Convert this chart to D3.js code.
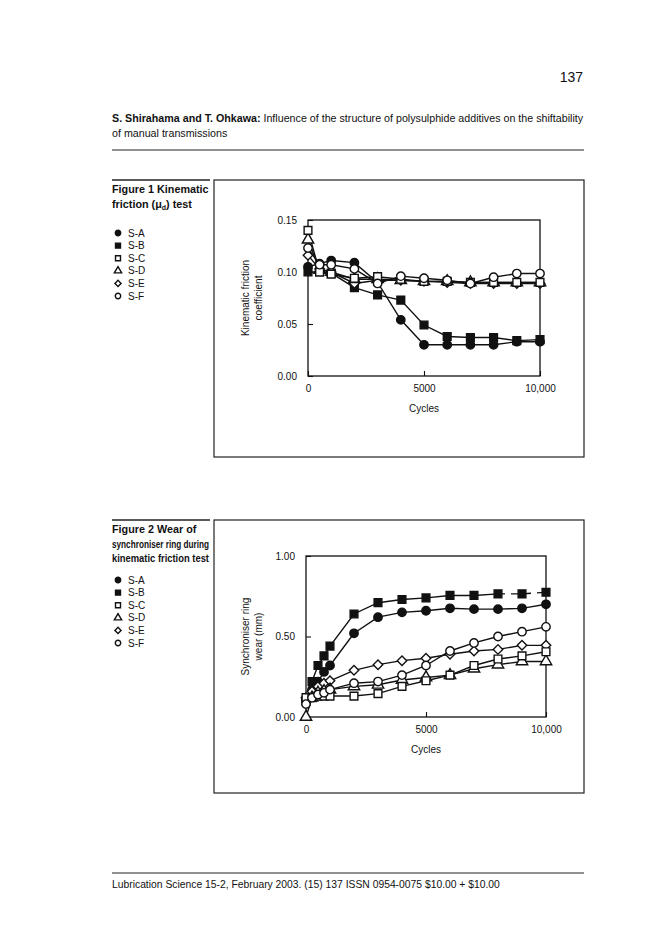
<!DOCTYPE html>
<html><head><meta charset="utf-8">
<script src="https://cdn.jsdelivr.net/npm/d3@7"></script>
<style>body{margin:0;background:#fff}svg{display:block}text{font-family:"Liberation Sans",Arial,sans-serif;fill:#111}</style>
</head><body>
<svg id="page" width="652" height="943"></svg>
<script>
// ---------- data ----------
const seriesNames = ["S-A","S-B","S-C","S-D","S-E","S-F"];
const seriesSymbols = ["circleFilled","squareFilled","squareOpen","triangleOpen","diamondOpen","circleOpen"];

// Figure 1: kinematic friction coefficient vs cycles
const fig1Cycles = [0,500,1000,2000,3000,4000,5000,6000,7000,8000,9000,10000];
const fig1SA = [0.105,0.108,0.111,0.109,0.090,0.054,0.030,0.030,0.030,0.030,0.033,0.033];
const fig1SB = [0.100,0.100,0.099,0.085,0.078,0.073,0.049,0.038,0.037,0.037,0.034,0.035];
const fig1SC = [0.140,0.100,0.098,0.094,0.0955,0.093,0.091,0.091,0.090,0.090,0.090,0.090];
const fig1SD = [0.131,0.102,0.100,0.093,0.093,0.092,0.091,0.091,0.090,0.090,0.090,0.090];
const fig1SE = [0.116,0.103,0.100,0.089,0.092,0.092,0.091,0.090,0.089,0.089,0.089,0.089];
const fig1SF = [0.123,0.107,0.107,0.103,0.089,0.096,0.094,0.092,0.089,0.095,0.0985,0.0985];
const fig1YTicks = [0,0.05,0.10,0.15];

// Figure 2: synchroniser ring wear (mm) vs cycles
const fig2Cycles = [0,250,500,750,1000,2000,3000,4000,5000,6000,7000,8000,9000,10000];
const fig2SA = [0.10,0.17,0.22,0.28,0.32,0.52,0.62,0.65,0.66,0.675,0.67,0.67,0.675,0.70];
const fig2SB = [0.10,0.22,0.32,0.38,0.44,0.64,0.71,0.73,0.74,0.755,0.755,0.765,0.765,0.775];
const fig2SC = [0.12,0.12,0.13,0.13,0.13,0.13,0.145,0.19,0.225,0.26,0.32,0.36,0.38,0.405];
const fig2SD = [0.00,0.12,0.15,0.16,0.17,0.19,0.20,0.23,0.245,0.26,0.30,0.325,0.345,0.345];
const fig2SE = [0.12,0.16,0.19,0.21,0.225,0.29,0.325,0.35,0.365,0.39,0.41,0.42,0.445,0.445];
const fig2SF = [0.08,0.12,0.14,0.15,0.17,0.21,0.22,0.26,0.32,0.41,0.46,0.50,0.53,0.56];
const fig2YTicks = [0,0.5,1.0];
const fig2DashedFrom = 8000; // S-B drawn dashed after this cycle count

const xTickValues = [0,5000,10000];
const xTickLabels = ["0","5000","10,000"];

// ---------- drawing ----------
const svg = d3.select("#page");
svg.append("rect").attr("width",652).attr("height",943).attr("fill","#fff");

function fitWidth(sel, w) {
  const n = sel.node(); const cur = n.getComputedTextLength();
  const fs = parseFloat(sel.attr("font-size"));
  sel.attr("font-size", (fs * w / cur).toFixed(2));
}

// header
svg.append("text").attr("x",583).attr("y",82).attr("text-anchor","end").attr("font-size",14).text("137");
const t1 = svg.append("text").attr("x",112).attr("y",122).attr("font-size",10.6);
t1.append("tspan").attr("font-weight","bold").text("S. Shirahama and T. Ohkawa:");
t1.append("tspan").text(" Influence of the structure of polysulphide additives on the shiftability");
fitWidth(t1, 471);
svg.append("text").attr("x",112).attr("y",137).attr("font-size",t1.attr("font-size")).text("of manual transmissions");
svg.append("line").attr("x1",112).attr("x2",584).attr("y1",150).attr("y2",150).attr("stroke","#222").attr("stroke-width",1.2);

// footer
svg.append("line").attr("x1",112).attr("x2",584).attr("y1",873).attr("y2",873).attr("stroke","#222").attr("stroke-width",1.2);
const ft = svg.append("text").attr("x",112).attr("y",888).attr("font-size",10.6).text("Lubrication Science 15-2, February 2003. (15) 137 ISSN 0954-0075 $10.00 + $10.00");
fitWidth(ft, 388);

function marker(g, kind, x, y, s) {
  let type, fill, rot = 0, size;
  if (kind.startsWith("circle")) { type = d3.symbolCircle; size = Math.PI*s*s; }
  else if (kind.startsWith("square")) { type = d3.symbolSquare; size = (2*s)*(2*s)*0.85; }
  else if (kind.startsWith("triangle")) { type = d3.symbolTriangle; size = s*s*3.2; }
  else { type = d3.symbolSquare; size = (1.6*s)*(1.6*s); rot = 45; }
  fill = kind.endsWith("Filled") ? "#111" : "#fff";
  g.append("path").attr("d", d3.symbol().type(type).size(size)())
    .attr("transform", `translate(${x},${y}) rotate(${rot})`)
    .attr("fill", fill).attr("stroke","#111").attr("stroke-width",1.4);
}

function figure(cfg) {
  const g = svg.append("g");
  // caption rule + caption
  g.append("line").attr("x1",112).attr("x2",210).attr("y1",cfg.top).attr("y2",cfg.top).attr("stroke","#222").attr("stroke-width",1.6);
  cfg.caption.forEach((c,i) => {
    const t = g.append("text").attr("x",112).attr("y",cfg.top+13+i*14.5).attr("font-size",10.8).attr("font-weight","bold").html(c);
    if (t.node().getComputedTextLength() > 98) t.attr("textLength",97).attr("lengthAdjust","spacingAndGlyphs");
  });
  // legend
  seriesNames.forEach((n,i) => {
    const yy = cfg.legendTop + i*12.6;
    marker(g, seriesSymbols[i], 118, yy, 2.7);
    g.append("text").attr("x",128).attr("y",yy+3.6).attr("font-size",10).text(n);
  });
  // outer box
  g.append("rect").attr("x",214).attr("y",cfg.top).attr("width",370).attr("height",cfg.boxH)
    .attr("fill","none").attr("stroke","#222").attr("stroke-width",1.2);

  const x = d3.scaleLinear().domain([0,10000]).range(cfg.xr);
  const y = d3.scaleLinear().domain(cfg.yd).range(cfg.yr);

  // plot frame
  g.append("rect").attr("x",cfg.xr[0]).attr("y",cfg.yr[1]).attr("width",cfg.xr[1]-cfg.xr[0]).attr("height",cfg.yr[0]-cfg.yr[1])
    .attr("fill","none").attr("stroke","#111").attr("stroke-width",1.3);

  const ya = g.append("g").attr("transform",`translate(${cfg.xr[0]},0)`)
    .call(d3.axisLeft(y).tickValues(cfg.yTicks).tickFormat(d3.format(".2f")).tickSizeInner(-5).tickSizeOuter(0).tickPadding(11));
  ya.select(".domain").remove();
  ya.selectAll("text").attr("font-size",10).attr("font-family","Liberation Sans, Arial, sans-serif").attr("fill","#111");
  ya.selectAll("line").attr("stroke","#111").attr("stroke-width",1.1);

  const xa = g.append("g").attr("transform",`translate(0,${cfg.yr[0]})`)
    .call(d3.axisBottom(x).tickValues(xTickValues).tickFormat((d,i)=>xTickLabels[i]).tickSizeInner(-5).tickSizeOuter(0).tickPadding(9));
  xa.select(".domain").remove();
  xa.selectAll("text").attr("font-size",10).attr("font-family","Liberation Sans, Arial, sans-serif").attr("fill","#111");
  xa.selectAll("line").attr("stroke","#111").attr("stroke-width",1.1);

  g.append("text").attr("x",(cfg.xr[0]+cfg.xr[1])/2).attr("y",cfg.yr[0]+36).attr("text-anchor","middle").attr("font-size",10).text("Cycles");
  const cy = (cfg.yr[0]+cfg.yr[1])/2;
  cfg.yTitle.forEach((t,i) => g.append("text").attr("transform",`translate(${249+i*13},${cy}) rotate(-90)`)
    .attr("text-anchor","middle").attr("font-size",10).text(t));

  const line = d3.line().x(d=>x(d[0])).y(d=>y(d[1]));
  // lines
  cfg.series.forEach((vals,si) => {
    const pts = cfg.cycles.map((c,i)=>[c,vals[i]]);
    if (cfg.dashed && si === cfg.dashed.index) {
      const solid = pts.filter(p=>p[0]<=cfg.dashed.from);
      const dash = pts.filter(p=>p[0]>=cfg.dashed.from);
      g.append("path").attr("d",line(solid)).attr("fill","none").attr("stroke","#111").attr("stroke-width",1.4);
      g.append("path").attr("d",line(dash)).attr("fill","none").attr("stroke","#111").attr("stroke-width",1.4).attr("stroke-dasharray","7,6");
    } else {
      g.append("path").attr("d",line(pts)).attr("fill","none").attr("stroke","#111").attr("stroke-width",1.4);
    }
  });
  // markers (open ones on top of filled)
  const order = [0,1,4,3,2,5];
  order.forEach(si => {
    cfg.series[si].forEach((v,i) => marker(g, seriesSymbols[si], x(cfg.cycles[i]), y(v), 4.2));
  });
}

figure({
  top:180, boxH:277, legendTop:233,
  caption:["Figure 1 Kinematic","friction (μ<tspan font-size='7' dy='2'>d</tspan><tspan dy='-2'>) test</tspan>"],
  xr:[308,540], yr:[376,220], yd:[0,0.15], yTicks:fig1YTicks,
  yTitle:["Kinematic friction","coefficient"],
  cycles:fig1Cycles, series:[fig1SA,fig1SB,fig1SC,fig1SD,fig1SE,fig1SF]
});
figure({
  top:520, boxH:273, legendTop:580,
  caption:["Figure 2 Wear of","synchroniser ring during","kinematic friction test"],
  xr:[306,546], yr:[717,556], yd:[0,1], yTicks:fig2YTicks,
  yTitle:["Synchroniser ring","wear (mm)"],
  cycles:fig2Cycles, series:[fig2SA,fig2SB,fig2SC,fig2SD,fig2SE,fig2SF],
  dashed:{index:1, from:fig2DashedFrom}
});
</script>
</body></html>
